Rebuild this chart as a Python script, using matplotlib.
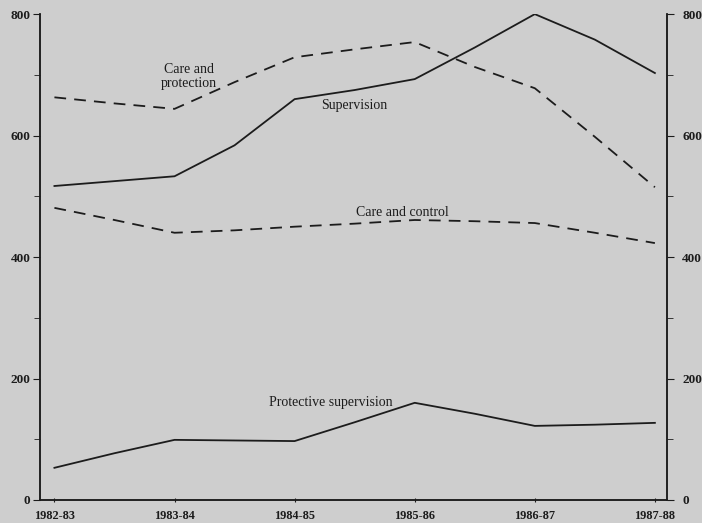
import matplotlib
matplotlib.use("Agg")
import matplotlib.pyplot as plt
from matplotlib.ticker import MultipleLocator

plt.rcParams['font.family'] = ['Liberation Serif', 'DejaVu Serif']

years = ["1982-83", "1983-84", "1984-85", "1985-86", "1986-87", "1987-88"]
# half-year positions (index units) at which the drawn curves bend
x_pos = [0, 0.5, 1, 1.5, 2, 2.5, 3, 3.5, 4, 4.5, 5]

supervision = [517, 525, 533, 584, 660, 675, 693, 745, 800, 758, 703]
care_protection = [663, 653, 644, 688, 729, 742, 754, 713, 678, 598, 515]
care_control = [481, 461, 440, 444, 450, 455, 461, 459, 456, 440, 423]
protective_supervision = [53, 77, 99, 98, 97, 128, 160, 142, 122, 124, 127]

bg = '#cecece'
ink = '#1c1c1c'

fig = plt.figure(figsize=(7.02, 5.23), dpi=100, facecolor=bg)
ax = fig.add_axes([0.057, 0.044, 0.893, 0.929], facecolor=bg)

ax.plot(x_pos, supervision, color=ink, lw=1.3)
ax.plot(x_pos, care_protection, color=ink, lw=1.3, dashes=(6.5, 4.5))
ax.plot(x_pos, care_control, color=ink, lw=1.3, dashes=(6.5, 4.5))
ax.plot(x_pos, protective_supervision, color=ink, lw=1.3)

ax.set_xlim(-0.12, 5.1)
ax.set_ylim(0, 800)

ax.set_xticks(range(len(years)))
ax.set_xticklabels(years)

ax2 = ax.twinx()
ax2.set_ylim(0, 800)

for a in (ax, ax2):
    a.yaxis.set_major_locator(MultipleLocator(200))
    a.yaxis.set_minor_locator(MultipleLocator(100))
    a.spines['top'].set_visible(False)
    for s in ['left', 'right', 'bottom']:
        a.spines[s].set_color(ink)
        a.spines[s].set_linewidth(1.1)
    a.tick_params(axis='y', which='both', direction='out', color=ink,
                  labelsize=9.5, labelcolor=ink)
    a.tick_params(axis='y', which='major', length=5)
    a.tick_params(axis='y', which='minor', length=4)

ax.tick_params(axis='y', which='both', pad=2)
ax2.tick_params(axis='y', which='both', pad=6)
ax.tick_params(axis='x', length=3, direction='inout', color=ink, labelsize=8.8,
               labelcolor=ink, pad=6)
for lbl in ax.get_xticklabels() + ax.get_yticklabels() + ax2.get_yticklabels():
    lbl.set_fontweight('bold')

tk = dict(fontsize=10, color=ink, ha='center', va='center')
ax.text(1.12, 697, "Care and\nprotection", linespacing=1.05, **tk)
ax.text(2.5, 650, "Supervision", **tk)
ax.text(2.9, 474, "Care and control", **tk)
ax.text(2.3, 160, "Protective supervision", **tk)

fig.savefig("out.png", dpi=100, facecolor=bg)
